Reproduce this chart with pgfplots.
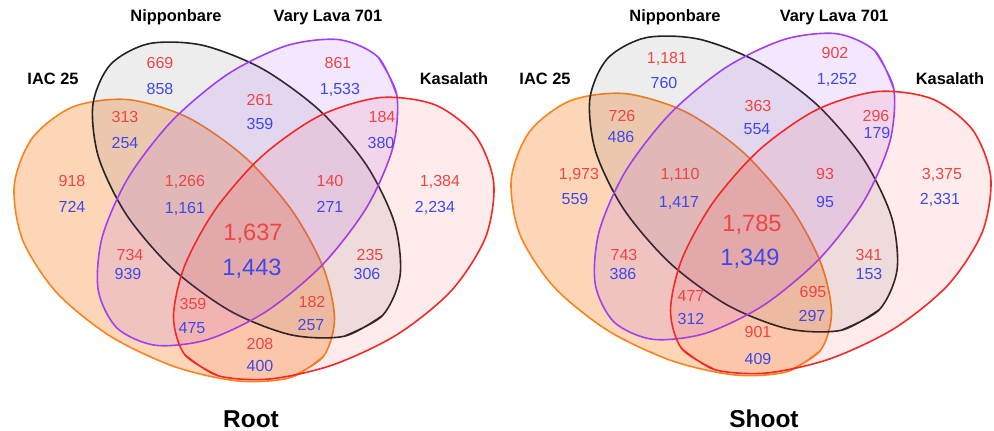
\documentclass[border=0pt]{standalone}
\usepackage{pgfplots}
\pgfplotsset{compat=1.18}
\usepackage{pgfplotstable}
\usepackage{fontspec}
\setmainfont{Liberation Sans}
\definecolor{cOr}{RGB}{247,132,30}
\definecolor{cOrF}{RGB}{248,120,20}
\definecolor{cBk}{RGB}{35,35,35}
\definecolor{cBkF}{RGB}{60,60,60}
\definecolor{cPu}{RGB}{160,64,240}
\definecolor{cPuF}{RGB}{160,64,255}
\definecolor{cRd}{RGB}{245,40,40}
\definecolor{cRdF}{RGB}{245,40,40}
\definecolor{numred}{RGB}{238,68,68}
\definecolor{numblue}{RGB}{62,72,235}

% outlines (pixel coordinates of a panel; first two points repeated to close smoothly)
\pgfplotstableread{
x y
323.4 356.5
290.1 377.7
238.2 381.0
174.9 366.8
110.6 336.4
56.5 292.5
22.5 239.5
14.3 184.8
32.7 137.5
73.1 106.8
127.9 99.6
188.2 117.7
245.4 157.6
292.3 211.0
323.4 267.9
334.5 318.7
323.4 356.5
290.1 377.7
}\shOrange
\pgfplotstableread{
x y
382.5 315.5
344.1 336.3
290.8 334.8
230.9 311.4
173.3 269.4
126.8 215.3
98.6 157.4
92.9 104.5
110.5 64.5
148.9 43.7
202.2 45.2
262.2 68.7
319.8 110.6
366.2 164.7
394.4 222.6
400.1 275.5
382.5 315.5
344.1 336.3
}\shBlack
\pgfplotstableread{
x y
378.0 57.0
396.8 95.0
392.8 147.8
366.7 207.4
322.5 264.7
266.8 311.1
208.2 339.4
155.6 345.3
117.0 328.0
98.2 290.0
102.2 237.2
128.3 177.6
172.5 120.3
228.2 73.9
286.8 45.6
339.4 39.7
378.0 57.0
396.8 95.0
}\shPurple
\pgfplotstableread{
x y
184.6 354.5
217.9 375.7
269.8 379.0
333.1 364.8
397.4 334.4
451.5 290.5
485.5 237.5
493.7 182.8
475.3 135.5
434.9 104.8
380.1 97.6
319.8 115.7
262.6 155.6
215.7 209.0
184.6 265.9
173.5 316.7
184.6 354.5
217.9 375.7
}\shRed

% Root numbers
\pgfplotstableread{
x y label
160 63 669
338 63 861
260 100 261
125 117 313
382 117 184
72 181 918
185 181 1,266
330 181 140
440 181 1,384
130 255 734
370 255 235
193 304 359
312 302 182
260 344 208
}\rootRed
\pgfplotstableread{
x y label
160 89 858
340 89 1,533
260 124 359
125 143 254
381 143 380
72 207 724
185 208 1,161
330 207 271
435 207 2,234
128 274 939
367 274 306
192 328 475
311 325 257
260 366 400
}\rootBlue
% Shoot numbers (panel coordinates)
\pgfplotstableread{
x y label
170 64 1,181
338 59 902
261 112 363
125 122 726
379 122 296
82 180 1,973
183 180 1,110
328 180 93
445 180 3,375
127 261 743
372 261 341
194 302 477
316 298 695
261 338 901
}\shootRed
\pgfplotstableread{
x y label
167 89 760
340 85 1,252
260 135 554
124 143 486
380 139 179
78 205 559
182 208 1,417
328 208 95
443 205 2,331
126 280 386
372 280 153
194 325 312
315 322 297
261 365 409
}\shootBlue

\pgfplotsset{
  panel/.style={width=248.5pt, height=215.5pt, scale only axis,
    xmin=0, xmax=497, y dir=reverse, axis lines=none, clip=false},
  numstyle/.style={draw=none, mark=none, nodes near coords,
    point meta=explicit symbolic, nodes near coords align=center,
    every node near coord/.style={anchor=center, inner sep=0pt, text depth=0pt,
      font=\fontsize{8}{9}\selectfont, text=#1}},
  bignum/.style={draw=none, mark=none, nodes near coords,
    point meta=explicit symbolic, nodes near coords align=center,
    every node near coord/.style={anchor=center, inner sep=0pt, text depth=0pt,
      font=\fontsize{11.8}{13}\selectfont, text=#1}},
}
\tikzset{
  lab/.style={font=\bfseries\fontsize{8.2}{10}\selectfont, inner sep=0pt, text=black},
  ttl/.style={font=\bfseries\fontsize{12.2}{14}\selectfont, inner sep=0pt, text=black},
}

\newcommand{\shapes}{%
  \addplot[smooth, line width=0.8pt, draw=cOr, fill=cOrF, fill opacity=0.3] table {\shOrange};
  \addplot[smooth, line width=0.8pt, draw=cBk, fill=cBkF, fill opacity=0.09] table {\shBlack};
  \addplot[smooth, line width=0.8pt, draw=cPu, fill=cPuF, fill opacity=0.13] table {\shPurple};
  \addplot[smooth, line width=0.8pt, draw=cRd, fill=cRdF, fill opacity=0.09] table {\shRed};
}

\begin{document}
\begin{tikzpicture}
\begin{axis}[panel, ymin=0, ymax=431, at={(0pt,0pt)}]
  \addplot[draw=none, mark=none] coordinates {(0,0) (497,431)};
  \shapes
  \addplot[numstyle=numred] table[meta=label] {\rootRed};
  \addplot[numstyle=numblue] table[meta=label] {\rootBlue};
  \addplot[bignum=numred] table[meta=label] {
x y label
253 232 1,637
};
  \addplot[bignum=numblue] table[meta=label] {
x y label
252 267 1,443
};
  \node[lab] at (axis cs:53,79) {IAC 25};
  \node[lab] at (axis cs:176,17) {Nipponbare};
  \node[lab] at (axis cs:328,17) {Vary Lava 701};
  \node[lab] at (axis cs:454,79) {Kasalath};
  \node[ttl] at (axis cs:251,419) {Root};
\end{axis}
\begin{axis}[panel, ymin=6, ymax=437, at={(248.5pt,0pt)}]
  \addplot[draw=none, mark=none] coordinates {(0,6) (497,437)};
  \shapes
  \addplot[numstyle=numred] table[meta=label] {\shootRed};
  \addplot[numstyle=numblue] table[meta=label] {\shootBlue};
  \addplot[bignum=numred] table[meta=label] {
x y label
255 229 1,785
};
  \addplot[bignum=numblue] table[meta=label] {
x y label
253 263 1,349
};
  \node[lab] at (axis cs:48,85) {IAC 25};
  \node[lab] at (axis cs:178,23) {Nipponbare};
  \node[lab] at (axis cs:337,23) {Vary Lava 701};
  \node[lab] at (axis cs:453,85) {Kasalath};
  \node[ttl] at (axis cs:267,425) {Shoot};
\end{axis}
\end{tikzpicture}
\end{document}
